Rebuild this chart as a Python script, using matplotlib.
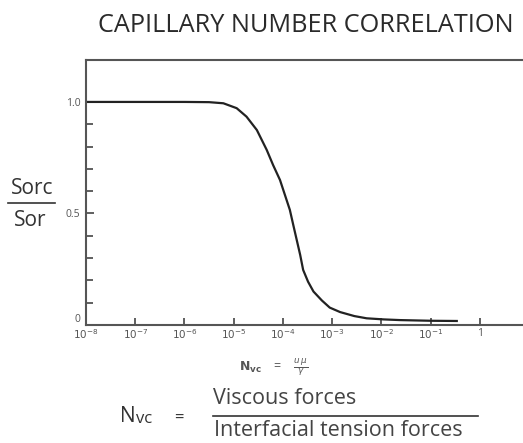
import matplotlib
matplotlib.use("Agg")
import matplotlib.pyplot as plt
import numpy as np

# capillary number (log10) vs normalised residual oil saturation
log_nvc = [-8.0, -7.0, -6.0, -5.5, -5.21, -4.94, -4.74, -4.53, -4.33, -4.20, -4.06,
           -3.96, -3.86, -3.79, -3.72, -3.65, -3.59, -3.49, -3.38, -3.21, -3.05,
           -2.84, -2.55, -2.30, -1.95, -1.62, -1.0, -0.47]
sorc_sor = [1.0, 1.0, 1.0, 0.999, 0.994, 0.972, 0.934, 0.874, 0.785, 0.717, 0.650,
            0.583, 0.516, 0.448, 0.381, 0.314, 0.247, 0.194, 0.150, 0.110, 0.078,
            0.058, 0.040, 0.030, 0.025, 0.022, 0.019, 0.018]

xtick_pos = [1e-8, 1e-7, 1e-6, 1e-5, 1e-4, 1e-3, 1e-2, 1e-1, 1]
xtick_lab = [r'$10^{-8}$', r'$10^{-7}$', r'$10^{-6}$', r'$10^{-5}$', r'$10^{-4}$',
             r'$10^{-3}$', r'$10^{-2}$', r'$10^{-1}$', '1']
ytick_pos = [0, 0.5, 1.0]
ytick_lab = ['0', '0.5', '1.0']

plt.rcParams['font.family'] = ['Open Sans', 'DejaVu Sans']
plt.rcParams['mathtext.fontset'] = 'dejavusans'

fig = plt.figure(figsize=(5.23, 4.43), dpi=100)
ax = fig.add_axes([86 / 523, 118 / 443, 437 / 523, 265 / 443])

ax.plot(10 ** np.array(log_nvc), sorc_sor, color='#222222', lw=1.6)

ax.set_xscale('log')
ax.set_xlim(1e-8, 10 ** 0.875)
ax.set_ylim(0, 1.188)

ax.set_xticks(xtick_pos)
ax.set_xticklabels(xtick_lab)
ax.xaxis.set_minor_locator(matplotlib.ticker.NullLocator())
ax.set_yticks(ytick_pos)
ax.set_yticklabels(ytick_lab)
ax.set_yticks(np.arange(0.1, 1.1, 0.1), minor=True)

ax.tick_params(axis='both', which='both', direction='in', colors='#444444',
               labelsize=7.5, labelcolor='#555555', width=1.2)
ax.tick_params(axis='x', which='major', length=5, pad=2)
ax.tick_params(axis='y', which='major', length=6, pad=4)
ax.tick_params(axis='y', which='minor', length=5)
ax.get_yticklabels()[0].set_verticalalignment('bottom')

ax.spines['right'].set_visible(False)
for s in ['left', 'top', 'bottom']:
    ax.spines[s].set_color('#555555')
    ax.spines[s].set_linewidth(1.5)

fig.text(306 / 523, 1 - 25 / 443, 'CAPILLARY NUMBER CORRELATION', ha='center',
         va='center', fontsize=18.2, color='#2a2a2a')

# y label as a fraction
fig.text(32 / 523, 1 - 188 / 443, 'Sorc', ha='center', va='center', fontsize=15,
         color='#333333')
fig.text(30 / 523, 1 - 221 / 443, 'Sor', ha='center', va='center', fontsize=15,
         color='#333333')
fig.add_artist(plt.Line2D([8 / 523, 55 / 523], [1 - 203 / 443, 1 - 203 / 443],
                          color='#333333', lw=1.2))

# definition under the x axis
fig.text(274 / 523, 1 - 367 / 443, r'$\mathbf{N_{vc}}$    =    $\frac{u\,\mu}{\gamma}$',
         ha='center', va='center', fontsize=9, color='#555555')

fig.text(136 / 523, 1 - 417 / 443, 'N', ha='right', va='center', fontsize=15,
         color='#333333')
fig.text(136 / 523, 1 - 419 / 443, 'vc', ha='left', va='center', fontsize=12,
         color='#333333')
fig.text(179 / 523, 1 - 419 / 443, '=', ha='center', va='center', fontsize=12,
         color='#333333')
fig.text(285 / 523, 1 - 399 / 443, 'Viscous forces', ha='center', va='center',
         fontsize=15.5, color='#444444')
fig.add_artist(plt.Line2D([213 / 523, 478 / 523], [1 - 416 / 443, 1 - 416 / 443],
                          color='#333333', lw=1.2))
fig.text(338 / 523, 1 - 430 / 443, 'Interfacial tension forces', ha='center',
         va='center', fontsize=15.5, color='#444444')

fig.savefig('out.png', dpi=100)
